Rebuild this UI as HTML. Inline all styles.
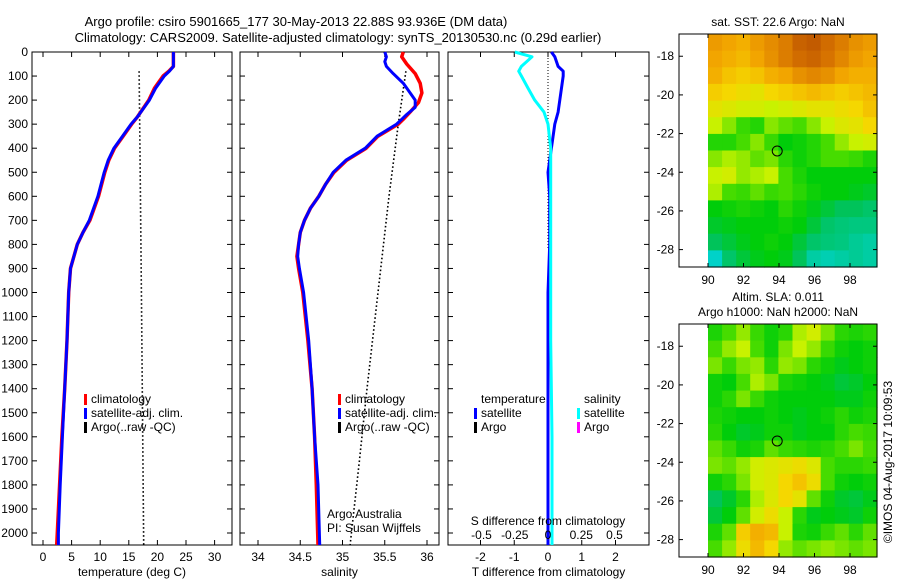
<!DOCTYPE html>
<html><head><meta charset="utf-8"><style>
body{margin:0;background:#fff;}
svg{display:block;font-family:"Liberation Sans",sans-serif;}
text{fill:#000;}
</style></head><body>
<svg id="c" width="900" height="580" viewBox="0 0 900 580"></svg>
<script>
// ---------- data ----------
const depthTicks=[0,100,200,300,400,500,600,700,800,900,1000,1100,1200,1300,1400,1500,1600,1700,1800,1900,2000];
const tempTicks=[0,5,10,15,20,25,30];
const salTicks=[34,34.5,35,35.5,36];
const tdTicks=[-2,-1,0,1,2];
const sdTicks=[-0.5,-0.25,0,0.25,0.5];
const lonTicks=[90,92,94,96,98];
const latTicks=[-18,-20,-22,-24,-26,-28];

const tDepth=[0,60,80,100,150,200,270,300,350,400,450,500,600,700,750,800,900,1000,1200,1400,1600,1800,2000,2050];
const tClim=[22.8,22.8,22,21,19.5,18.5,16.5,15.5,14,12.5,11.5,10.8,9.7,8.2,7,6,4.8,4.5,4.2,3.8,3.3,2.9,2.5,2.4];
const tSat=[22.8,22.8,22.1,21.2,19.7,18.6,16.5,15.4,13.9,12.4,11.4,10.7,9.6,8.1,7,6,4.8,4.5,4.2,3.8,3.4,3,2.7,2.7];
const argoTDepth=[80,300,1000,2050];
const argoT=[16.8,16.9,17.2,17.6];

const sDepth=[0,20,50,90,130,170,210,250,280,300,350,400,450,500,550,600,650,700,750,800,850,900,1000,1200,1400,1600,1800,2050];
const sClim=[35.72,35.7,35.76,35.86,35.92,35.94,35.9,35.8,35.72,35.66,35.42,35.28,35.05,34.9,34.8,34.72,34.62,34.55,34.5,34.48,34.46,34.48,34.53,34.59,34.64,34.67,34.69,34.71];
const sSatDepth=[0,20,40,60,90,130,170,200,230,260,280,300,350,400,450,500,550,600,650,700,750,800,850,900,1000,1200,1400,1600,1800,2050];
const sSat=[35.5,35.52,35.5,35.52,35.6,35.72,35.8,35.86,35.86,35.76,35.7,35.64,35.41,35.27,35.04,34.89,34.8,34.72,34.62,34.55,34.5,34.48,34.47,34.49,34.54,34.6,34.64,34.67,34.71,34.73];
const argoSDepth=[80,300,600,1000,1400,1700,2050];
const argoS=[35.75,35.66,35.55,35.42,35.29,35.2,35.09];

const dDepth=[0,20,60,80,100,150,200,250,300,400,500,600,800,1000,1200,1600,2050];
const tDiff=[0.1,0.2,0.3,0.45,0.45,0.4,0.35,0.3,0.2,0.1,0,0.05,0.05,0,0,0,0];
const sDiff=[-0.25,-0.12,-0.2,-0.22,-0.2,-0.15,-0.1,-0.03,0,0.02,0.02,0.02,0.02,0.02,0.02,0.03,0.03];

const sstGrid=[
[.82,.80,.78,.82,.85,.88,.95,.97,.92,.88,.84,.82],
[.80,.78,.76,.80,.84,.88,.92,.94,.90,.86,.82,.80],
[.78,.74,.72,.74,.78,.80,.84,.86,.84,.80,.78,.78],
[.72,.70,.68,.66,.70,.72,.74,.76,.74,.72,.74,.76],
[.66,.64,.62,.62,.60,.62,.64,.66,.66,.68,.70,.74],
[.60,.55,.48,.45,.55,.52,.50,.55,.60,.64,.66,.70],
[.45,.45,.50,.55,.48,.40,.42,.45,.50,.56,.60,.62],
[.55,.58,.56,.52,.54,.46,.42,.45,.50,.50,.48,.44],
[.60,.62,.56,.58,.60,.50,.44,.40,.40,.40,.40,.40],
[.58,.50,.48,.52,.48,.50,.46,.42,.40,.40,.38,.36],
[.40,.42,.44,.42,.40,.46,.42,.38,.34,.30,.30,.28],
[.36,.38,.40,.40,.40,.42,.40,.34,.28,.26,.25,.25],
[.30,.34,.38,.40,.42,.40,.34,.28,.26,.25,.22,.20],
[.15,.28,.34,.38,.40,.38,.30,.20,.18,.20,.22,.20]];
const slaGrid=[
[.44,.50,.56,.48,.42,.46,.58,.62,.54,.46,.44,.46],
[.50,.56,.60,.50,.42,.54,.60,.56,.48,.42,.40,.42],
[.54,.48,.54,.56,.46,.56,.54,.46,.42,.38,.40,.42],
[.42,.40,.50,.58,.54,.44,.42,.40,.38,.34,.36,.40],
[.42,.46,.54,.48,.42,.40,.40,.40,.40,.38,.38,.42],
[.44,.42,.40,.40,.42,.40,.38,.40,.42,.46,.42,.44],
[.46,.40,.36,.38,.42,.42,.38,.40,.40,.46,.50,.48],
[.52,.48,.42,.44,.52,.48,.46,.44,.46,.50,.54,.50],
[.54,.52,.56,.62,.64,.66,.68,.64,.50,.46,.46,.48],
[.42,.46,.54,.62,.64,.70,.74,.68,.50,.42,.40,.42],
[.30,.36,.46,.58,.64,.70,.66,.52,.42,.36,.34,.38],
[.34,.40,.52,.62,.68,.60,.46,.38,.40,.38,.36,.42],
[.44,.52,.72,.78,.76,.60,.44,.42,.48,.52,.46,.52],
[.50,.56,.68,.76,.70,.56,.52,.54,.56,.54,.52,.54]];
const profLon=93.9, profLat=-22.9;

// ---------- helpers ----------
const svg=document.getElementById('c');
const NS='http://www.w3.org/2000/svg';
function mk(tag,attrs,parent){const e=document.createElementNS(NS,tag);for(const k in attrs)e.setAttribute(k,attrs[k]);(parent||svg).appendChild(e);return e;}
function txt(x,y,s,anchor,size,parent){const t=mk('text',{x:x,y:y,'text-anchor':anchor||'middle','font-size':size||12},parent);t.textContent=s;return t;}

const yD=d=>52+d*0.2405;
const xT=t=>43+t*5.72;
const xS=s=>258+(s-34)*84.5;
const xTD=v=>548+v*33.75;
const xSD=v=>548+v*133;
const lonX=l=>708+(l-90)*17.75;

let e;
e=txt(296,26,'Argo profile: csiro 5901665_177 30-May-2013 22.88S 93.936E (DM data)','middle',13);


e=txt(338,42,'Climatology: CARS2009. Satellite-adjusted climatology: synTS_20130530.nc (0.29d earlier)','middle',13);



function panel(name,x0,x1,xTicks,xf,labelFmt,xTitle,showDepthLabels){
  const g=mk('g',{});
  
  
  mk('rect',{x:x0,y:52,width:x1-x0,height:493,fill:'none',stroke:'#000','stroke-width':1},g);
  depthTicks.forEach(d=>{
    mk('line',{x1:x0,x2:x0+5,y1:yD(d),y2:yD(d),stroke:'#000'},g);
    mk('line',{x1:x1-5,x2:x1,y1:yD(d),y2:yD(d),stroke:'#000'},g);
    if(showDepthLabels){const t=txt(x0-4,yD(d)+4,String(d),'end',12,g);
      
      }
  });
  xTicks.forEach(v=>{
    const x=xf(v);
    mk('line',{x1:x,x2:x,y1:52,y2:57,stroke:'#000'},g);
    mk('line',{x1:x,x2:x,y1:540,y2:545,stroke:'#000'},g);
    const t=txt(x,561,labelFmt(v),'middle',12,g);
    
    
  });
  const t=txt((x0+x1)/2,576,xTitle,'middle',12,g);
  
  
  return g;
}
const g1=panel('temperature-panel',32,232,tempTicks,xT,String,'temperature (deg C)',true);
const g2=panel('salinity-panel',240,439,salTicks,xS,String,'salinity',false);
const g3=panel('difference-panel',448,649,tdTicks,xTD,String,'T difference from climatology',false);

function line(g,xs,ds,xf,color,w,dash,name){
  const pts=xs.map((v,i)=>xf(v).toFixed(1)+','+yD(ds[i]).toFixed(1)).join(' ');
  const a={points:pts,fill:'none',stroke:color,'stroke-width':w,'stroke-linejoin':'round'};
  if(dash)a['stroke-dasharray']=dash;
  const p=mk('polyline',a,g);
  
  
}
line(g1,argoT,argoTDepth,xT,'#000',1.6,'1.6,2.4','argo-temperature-line');
line(g1,tClim,tDepth,xT,'#ff0000',3.5,null,'climatology-temperature-line');
line(g1,tSat,tDepth,xT,'#0000ff',3,null,'satellite-temperature-line');
line(g2,argoS,argoSDepth,xS,'#000',1.6,'1.6,2.4','argo-salinity-line');
line(g2,sClim,sDepth,xS,'#ff0000',3.5,null,'climatology-salinity-line');
line(g2,sSat,sSatDepth,xS,'#0000ff',3,null,'satellite-salinity-line');
mk('line',{x1:548,x2:548,y1:52,y2:250,stroke:'#000','stroke-width':1,'stroke-dasharray':'1,2'},g3);
line(g3,tDiff,dDepth,xTD,'#0000ff',3,null,'temperature-difference-line');
line(g3,sDiff,dDepth,xSD,'#00ffff',3,null,'salinity-difference-line');

e=txt(548,525,'S difference from climatology','middle',12,g3);


sdTicks.forEach(v=>{const t=txt(xSD(v),539,String(v),'middle',12,g3);
  
  });

function leg(g,x,y,color,label,name){
  mk('rect',{x:x,y:y-9,width:3,height:11,fill:color},g);
  const t=txt(x+7,y,label,'start',12,g);
  
  
}
[[g1,84],[g2,338]].forEach(([g,x])=>{
  leg(g,x,403,'#ff0000','climatology','legend-climatology');
  leg(g,x,417,'#0000ff','satellite-adj. clim.','legend-satellite');
  leg(g,x,431,'#000000','Argo(..raw -QC)','legend-argo');
});
e=txt(481,403,'temperature','start',12,g3);
e=txt(584,403,'salinity','start',12,g3);
leg(g3,474,417,'#0000ff','satellite','legend-t-satellite');
leg(g3,474,431,'#000000','Argo','legend-t-argo');
leg(g3,577,417,'#00ffff','satellite','legend-s-satellite');
leg(g3,577,431,'#ff00ff','Argo','legend-s-argo');
e=txt(327,518,'Argo Australia','start',12,g2);
e=txt(327,532,'PI: Susan Wijffels','start',12,g2);

const stops=[[0,[0,190,255]],[0.15,[0,210,200]],[0.3,[0,195,90]],[0.4,[0,205,10]],[0.5,[70,220,0]],[0.6,[200,242,0]],[0.7,[245,215,0]],[0.8,[242,165,0]],[0.9,[215,115,0]],[1,[185,80,0]]];
function cmap(v){for(let i=1;i<stops.length;i++){if(v<=stops[i][0]){const a=stops[i-1],b=stops[i];const f=(v-a[0])/(b[0]-a[0]);return 'rgb('+a[1].map((c,k)=>Math.round(c+(b[1][k]-c)*f)).join(',')+')';}}return 'rgb(185,80,0)';}

function map(name,top,bottom,grid,titles){
  const g=mk('g',{});
  
  
  const latTop=-16.85, latBot=-28.9, lonMax=99.52;
  const latY=l=>top+(latTop-l)*(bottom-top)/(latTop-latBot);
  const rows=grid.length, cols=grid[0].length;
  const dLon=(lonMax-90)/cols, dLat=(latTop-latBot)/rows;
  grid.forEach((row,r)=>row.forEach((v,c)=>{
    const x0=lonX(90+c*dLon), x1=lonX(90+(c+1)*dLon);
    const y0=latY(latTop-r*dLat), y1=latY(latTop-(r+1)*dLat);
    const cell=mk('rect',{x:x0.toFixed(1),y:y0.toFixed(1),width:(x1-x0+0.6).toFixed(1),height:(y1-y0+0.6).toFixed(1),fill:cmap(v)},g);
    
    
  }));
  mk('rect',{x:679,y:top,width:198,height:bottom-top,fill:'none',stroke:'#000'},g);
  lonTicks.forEach(l=>{const x=lonX(l);
    mk('line',{x1:x,x2:x,y1:top,y2:top+4,stroke:'#000'},g);
    mk('line',{x1:x,x2:x,y1:bottom-4,y2:bottom,stroke:'#000'},g);
    const t=txt(x,bottom+17,String(l),'middle',12,g);
    
    });
  latTicks.forEach(l=>{const y=latY(l);
    mk('line',{x1:679,x2:683,y1:y,y2:y,stroke:'#000'},g);
    mk('line',{x1:873,x2:877,y1:y,y2:y,stroke:'#000'},g);
    const t=txt(674,y+4,String(l),'end',12,g);
    
    });
  const c=mk('circle',{cx:lonX(profLon),cy:latY(profLat),r:5,fill:'none',stroke:'#000','stroke-width':1},g);
  
  
  titles.forEach(([s,y])=>{const t=txt(778,y,s,'middle',12,g);
    
    });
}
map('sst-map',34,267,sstGrid,[['sat. SST: 22.6 Argo: NaN',26]]);
map('sla-map',324,557,slaGrid,[['Altim. SLA: 0.011',301],['Argo h1000: NaN h2000: NaN',316]]);

e=txt(0,0,'©IMOS 04-Aug-2017 10:09:53','middle',12);
e.setAttribute('transform','translate(892,462) rotate(-90)');


</script>
</body></html>
